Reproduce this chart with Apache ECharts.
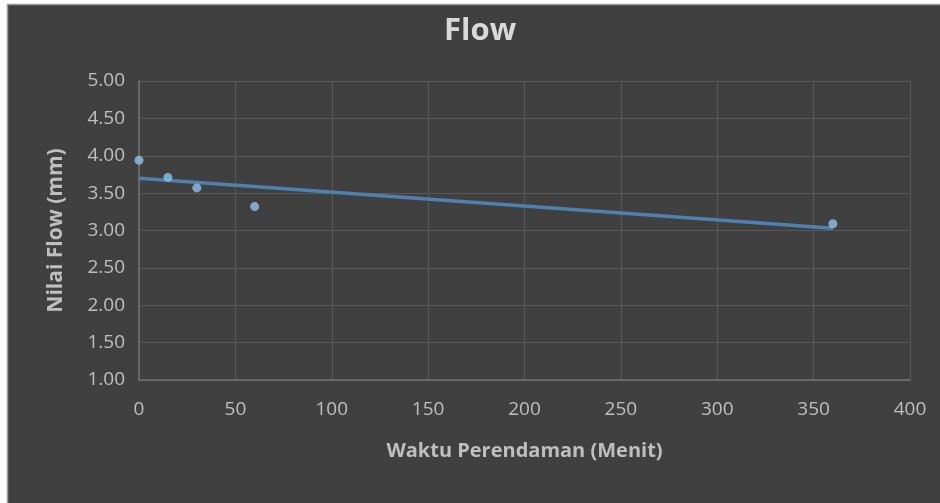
<!DOCTYPE html>
<html>
<head>
<meta charset="utf-8">
<script src="https://cdn.jsdelivr.net/npm/echarts@6/dist/echarts.min.js"></script>
<style>
html,body{margin:0;padding:0;background:#ffffff;}
#c{width:940px;height:503px;}
</style>
</head>
<body>
<div id="c"></div>
<script>
var waktu = [0, 15, 30, 60, 360];
var flow = [3.94, 3.71, 3.57, 3.32, 3.09];
var trendX = [0, 360];
var trendY = [3.70, 3.03];

var pts = waktu.map(function (x, i) { return [x, flow[i]]; });
var trend = trendX.map(function (x, i) { return [x, trendY[i]]; });

var chart = echarts.init(document.getElementById('c'), null, {renderer: 'canvas'});
var font = '"Open Sans", "Noto Sans", sans-serif';
chart.setOption({
  backgroundColor: '#ffffff',
  animation: false,
  graphic: [{
    type: 'rect', z: -10, silent: true,
    shape: {x: 7.5, y: 4.5, width: 940, height: 510},
    style: {fill: '#404040', stroke: '#9a9a9a', lineWidth: 1.5}
  }],
  title: {
    text: 'Flow', left: 439, top: 11,
    textStyle: {color: '#d9d9d9', fontSize: 31, fontWeight: 'bold', fontFamily: font}
  },
  grid: {left: 139, right: 30, top: 81, bottom: 123, containLabel: false},
  xAxis: {
    type: 'value', min: 0, max: 400, interval: 50,
    name: 'Waktu Perendaman (Menit)', nameLocation: 'middle', nameGap: 61,
    nameTextStyle: {color: '#bfbfbf', fontSize: 20, fontWeight: 'bold', fontFamily: font},
    axisLine: {show: true, lineStyle: {color: '#707070', width: 1.5}},
    axisTick: {show: false},
    axisLabel: {color: '#bfbfbf', fontSize: 19, margin: 20, fontFamily: font},
    splitLine: {show: true, lineStyle: {color: '#595959', width: 1}}
  },
  yAxis: {
    type: 'value', min: 1, max: 5, interval: 0.5,
    name: 'Nilai Flow (mm)', nameLocation: 'middle', nameGap: 72,
    nameTextStyle: {color: '#bfbfbf', fontSize: 21, fontWeight: 'bold', fontFamily: font},
    axisLine: {show: true, lineStyle: {color: '#707070', width: 1.5}},
    axisTick: {show: false},
    axisLabel: {color: '#bfbfbf', fontSize: 19, margin: 14, fontFamily: font,
      formatter: function (v) { return v.toFixed(2); }},
    splitLine: {show: true, lineStyle: {color: '#595959', width: 1}}
  },
  series: [
    {
      type: 'line', data: trend, symbol: 'none', z: 2,
      lineStyle: {color: '#4f81b0', width: 3.5}
    },
    {
      type: 'scatter', data: pts, symbol: 'circle', symbolSize: 9, z: 3,
      itemStyle: {color: '#8fc1ee'}
    }
  ]
});
</script>
</body>
</html>
